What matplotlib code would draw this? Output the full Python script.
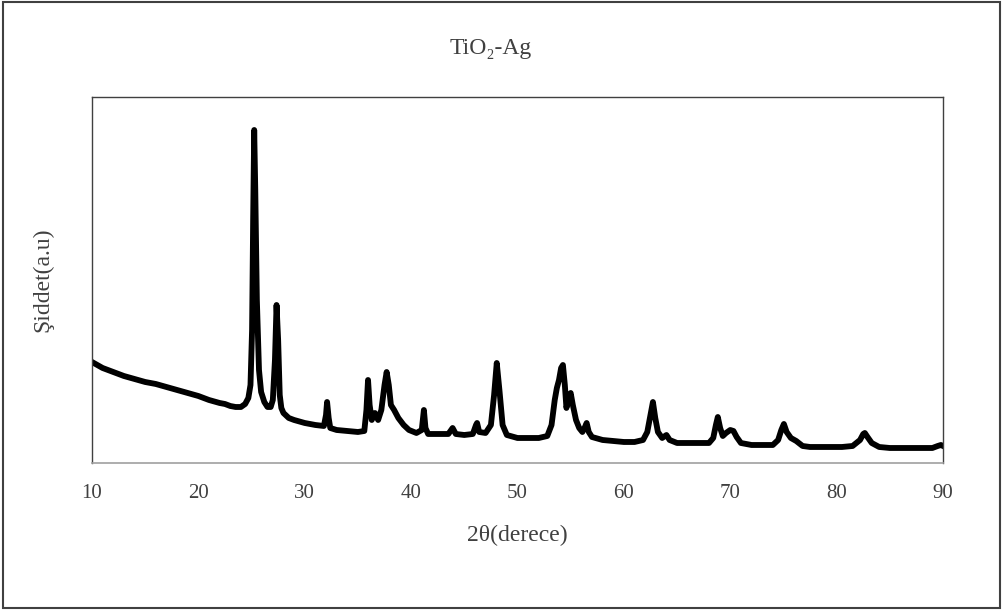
import numpy as np
import matplotlib.pyplot as plt
from matplotlib.patches import Rectangle

# ================================
# DADOS DRX
# ================================
two_theta = [
    10.0, 11.0, 12.0, 13.0, 14.0, 15.0, 16.0, 17.0, 18.0, 19.0,
    20.0, 21.0, 22.0, 22.5, 23.0, 23.5, 24.0, 24.4, 24.7, 24.9,
    25.05, 25.15, 25.25, 25.35, 25.5, 25.7, 25.9, 26.2, 26.5, 26.8,
    27.0, 27.2, 27.35, 27.5, 27.65, 27.8, 28.0, 28.5, 29.0, 30.0,
    31.0, 31.8, 32.0, 32.1, 32.25, 32.4, 33.0, 34.0, 35.0, 35.6,
    35.8, 35.95, 36.1, 36.3, 36.6, 36.9, 37.2, 37.5, 37.7, 37.9,
    38.1, 38.4, 38.8, 39.3, 39.8, 40.5, 41.0, 41.2, 41.35, 41.6,
    42.5, 43.5, 43.9, 44.2, 45.0, 45.8, 46.1, 46.2, 46.4, 47.0,
    47.5, 47.8, 48.05, 48.3, 48.6, 49.0, 50.0, 51.0, 52.0, 52.8,
    53.2, 53.5, 53.7, 53.9, 54.1, 54.27, 54.45, 54.6, 54.8, 55.0,
    55.2, 55.5, 55.8, 56.1, 56.3, 56.5, 56.7, 57.0, 58.0, 59.0,
    60.0, 61.0, 61.8, 62.2, 62.5, 62.73, 62.95, 63.2, 63.6, 64.0,
    64.3, 65.0, 66.0, 67.0, 68.0, 68.4, 68.65, 68.83, 69.05, 69.3,
    69.6, 70.0, 70.3, 70.6, 71.0, 72.0, 73.0, 74.0, 74.5, 74.8,
    75.04, 75.3, 75.7, 76.2, 76.8, 77.5, 78.5, 79.5, 80.5, 81.5,
    82.2, 82.5, 82.65, 82.9, 83.3, 84.0, 85.0, 86.0, 87.0, 88.0,
    89.0, 89.5, 89.8, 90.0,
]
intensity = [
    101, 95, 91, 87, 84, 81, 79, 76, 73, 70,
    67, 63, 60, 59, 57, 56, 56, 59, 65, 78,
    133, 243, 333, 273, 163, 93, 71, 61, 56, 56,
    63, 103, 158, 123, 68, 55, 50, 45, 43, 40,
    38, 37, 48, 61, 45, 35, 33, 32, 31, 32,
    53, 83, 58, 43, 50, 43, 53, 78, 91, 78,
    58, 53, 45, 38, 33, 30, 33, 53, 35, 29,
    29, 29, 35, 29, 28, 29, 38, 40, 31, 30,
    38, 68, 100, 73, 38, 28, 25, 25, 25, 27,
    38, 63, 75, 83, 95, 98, 78, 55, 65, 70,
    58, 43, 35, 31, 35, 40, 31, 26, 23, 22,
    21, 21, 23, 31, 48, 61, 45, 31, 25, 28,
    23, 20, 20, 20, 20, 25, 38, 46, 35, 27,
    30, 33, 32, 26, 20, 18, 18, 18, 23, 33,
    39, 31, 25, 22, 17, 16, 16, 16, 16, 17,
    23, 29, 30, 26, 20, 16, 15, 15, 15, 15,
    15, 17, 18, 17,
]

gray = "#404040"
fam = ["Liberation Serif", "DejaVu Serif"]

fig = plt.figure(figsize=(10.03, 6.10), dpi=100)
ax = fig.add_axes([0.0917, 0.241, 0.8485, 0.600])

ax.plot(two_theta, intensity, color="black", lw=4.2, solid_joinstyle="round")

ax.set_xlim(10, 90)
ax.set_ylim(0, 366)
ax.set_xticks(np.arange(10, 91, 10))
ax.set_yticks([])
ax.tick_params(axis="x", length=0, pad=15, labelsize=15, labelcolor=gray)
for lbl in ax.get_xticklabels():
    lbl.set_family(fam)

for side in ["left", "right", "top"]:
    ax.spines[side].set_color(gray)
    ax.spines[side].set_linewidth(1.0)
ax.spines["bottom"].set_color("#a0a0a0")
ax.spines["bottom"].set_linewidth(1.2)

ax.set_xlabel("2θ(derece)", fontsize=17, color=gray, family=fam, labelpad=16)
ax.set_ylabel("Şiddet(a.u)", fontsize=17, color=gray, family=fam, labelpad=28)
fig.text(0.489, 0.921, "TiO₂-Ag", ha="center", va="center",
         fontsize=17, color=gray, family=fam)

# borda externa
fig.patches.append(Rectangle((0.003, 0.004), 0.994, 0.993, transform=fig.transFigure,
                             fill=False, edgecolor=gray, lw=1.5))

fig.savefig("out.png", dpi=100)
